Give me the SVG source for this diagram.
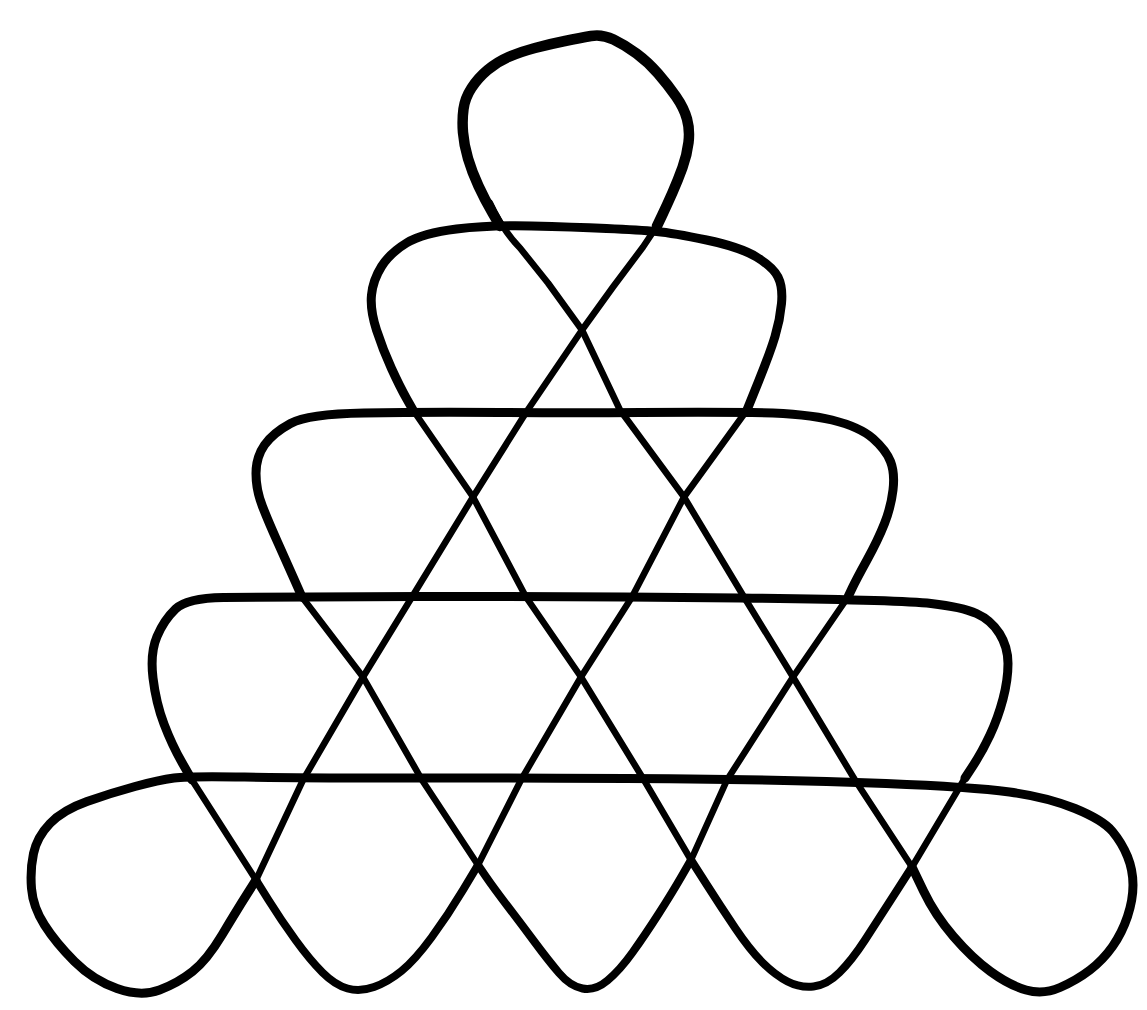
<svg xmlns="http://www.w3.org/2000/svg" width="1147" height="1010" viewBox="0 0 1147 1010">
<style>
.s{fill:none;stroke:#000;stroke-linecap:round;stroke-linejoin:round}
.thin{stroke-width:6.5}
.mid{stroke-width:8}
.thick{stroke-width:9}
.heavy{stroke-width:10.5}
</style>
<rect width="1147" height="1010" fill="#fff"/>
<g id="loops">
<path id="top-loop" class="s heavy" d="M500,226 L492.5,213 Q485,200 478.5,186 Q472,172 468,158.5 Q464,145 463,132.5 Q462,120 463.5,109 Q465,98 471.5,88 Q478,78 487.5,70 Q497,62 508.5,57 Q520,52 535,48 Q550,44 565,41 Q580,38 591,36 Q602,34 613.5,39.5 Q625,45 636.5,53.5 Q648,62 658,73.5 Q668,85 676,96.5 Q684,108 687,119 Q690,130 688.5,142.5 Q687,155 682.5,167.5 Q678,180 672.5,192.5 Q667,205 662,215.5 L657,226"/>
<path id="row1" class="s thick" d="M413,410 L406.5,398.5 Q400,387 391.5,368.5 Q383,350 376.5,330 Q370,310 371.5,295 Q373,280 381.5,266.5 Q390,253 406.5,243 Q423,233 456.5,229 Q490,225 531.5,226 Q573,227 606.5,228.5 Q640,230 656.5,231.5 Q673,233 706.5,240 Q740,247 756.5,257 Q773,267 778,277 Q783,287 781.5,303.5 Q780,320 775,336.5 Q770,353 758.5,381.5 L747,410"/>
<path id="row2" class="s thick" d="M302,597 L294.5,580 Q287,563 278,543 Q269,523 262.5,506.5 Q256,490 256,473.5 Q256,457 264.5,445 Q273,433 290.5,423.5 Q308,414 364,413 Q420,412 500,412.5 Q580,413 640,412.5 Q700,412 752,412.5 Q804,413 832,420 Q860,427 873,438.5 Q886,450 890.5,461.5 Q895,473 893,490 Q891,507 884.5,523.5 Q878,540 867,560 Q856,580 852,588.5 L848,597"/>
<path id="row3" class="s thick" d="M192,780 L182,762.5 Q172,745 164,724 Q156,703 153,678 Q150,653 157,636.5 Q164,620 175.5,609 Q187,598 223.5,597.5 Q260,597 420,596.5 Q580,596 740,598 Q900,600 931,603.5 Q962,607 976.5,613.5 Q991,620 999.5,633.5 Q1008,647 1008,663.5 Q1008,680 1003,699 Q998,718 990,735 Q982,752 973.5,765 L965,778"/>
<path id="row4" class="s thick" d="M912,867 L923.5,891 Q935,915 953.5,936.5 Q972,958 990.5,971.5 Q1009,985 1026,990 Q1043,995 1060,987.5 Q1077,980 1090,970 Q1103,960 1112.5,946.5 Q1122,933 1127.5,916.5 Q1133,900 1133,885 Q1133,870 1127.5,856.5 Q1122,843 1112.5,831.5 Q1103,820 1075,808.5 Q1047,797 1009.5,792 Q972,787 886,783.5 Q800,780 690,779 Q580,778 440,778 Q300,778 244.5,777 Q189,776 174,778 Q159,780 135,786.5 Q111,793 87,801.5 Q63,810 50,823.5 Q37,837 33.5,853.5 Q30,870 31.5,888.5 Q33,907 44.5,925 Q56,943 74.5,961.5 Q93,980 117,988.5 Q141,997 159.5,990 Q178,983 192.5,971.5 Q207,960 222,935 Q237,910 246.5,895 L256,880"/>
<path id="bottom-loop-2" class="s mid" d="M256,880 L268.5,900 Q281,920 295.5,940 Q310,960 322.5,972.5 Q335,985 347.5,988.5 Q360,992 374,987 Q388,982 401.5,971 Q415,960 431.5,937.5 Q448,915 463,890 L478,865"/>
<path id="bottom-loop-3" class="s mid" d="M478,865 L485.5,876 Q493,887 507.5,906 Q522,925 535,942.5 Q548,960 559,973 Q570,986 582.5,988.5 Q595,991 607.5,980.5 Q620,970 632.5,952.5 Q645,935 658.5,914 Q672,893 681.5,876.5 L691,860"/>
<path id="bottom-loop-4" class="s mid" d="M691,860 L706,883.5 Q721,907 735.5,928.5 Q750,950 762.5,962.5 Q775,975 787.5,981.5 Q800,988 813.5,986.5 Q827,985 839.5,972.5 Q852,960 865,940 Q878,920 895,893.5 L912,867"/>
</g>
<g id="diagonals" class="s thin">
<path d="M256,880 L303,780 L363,677 L412,597 L473,497 L527,411 L582,330 L613,287 L643,247 L657,226"/>
<path d="M490,203 Q503,231 520,248 L548,283 L582,330 L620,410 L684,497 L744,597 L793,677 L855,780 L912,867"/>
<path d="M413,410 L473,497 L526,597 L581,677 L644,780 L691,860"/>
<path d="M478,865 L521,780 L581,677 L632,597 L684,497 L747,410"/>
<path d="M302,597 L363,677 L422,780 L478,865"/>
<path d="M691,860 L727,780 L793,677 L848,597"/>
<path d="M192,780 L256,880"/>
<path d="M912,867 L965,778"/>
</g>
</svg>
